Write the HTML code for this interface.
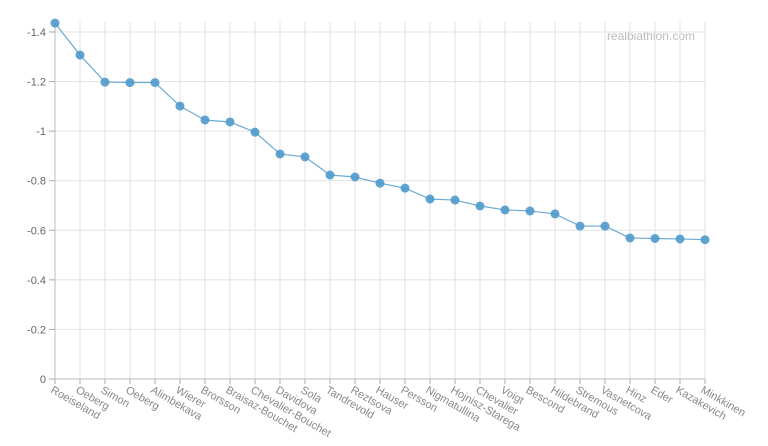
<!DOCTYPE html>
<html><head><meta charset="utf-8"><style>
html,body{margin:0;padding:0;background:#fff;width:768px;height:446px;overflow:hidden}
svg{font-family:"Liberation Sans",sans-serif}
</style></head><body>
<svg id="chart" width="768" height="446">
<text x="695" y="40" text-anchor="end" font-size="12" fill="#bbb">realbiathlon.com</text>
<g id="grid"></g><g id="axes"></g><g id="series"></g>
</svg>
<script>
const categories=["Roeiseland","Oeberg","Simon","Oeberg","Alimbekava","Wierer","Brorsson","Braisaz-Bouchet","Chevalier-Bouchet","Davidova","Sola","Tandrevold","Reztsova","Hauser","Persson","Nigmatullina","Hojnisz-Starega","Chevalier","Voigt","Bescond","Hildebrand","Stremous","Vasnetcova","Hinz","Eder","Kazakevich","Minkkinen"];
const values=[-1.436,-1.307,-1.198,-1.196,-1.196,-1.101,-1.045,-1.037,-0.996,-0.908,-0.896,-0.823,-0.815,-0.79,-0.77,-0.726,-0.722,-0.698,-0.682,-0.678,-0.666,-0.617,-0.617,-0.569,-0.567,-0.565,-0.562];
const yTicks=[0,-0.2,-0.4,-0.6,-0.8,-1,-1.2,-1.4];
const yTickLabels=["0","-0.2","-0.4","-0.6","-0.8","-1","-1.2","-1.4"];
const NS="http://www.w3.org/2000/svg";
const x0=55,x1=705,yBase=379,yTop=32;
const xs=i=>x0+i*(x1-x0)/(categories.length-1);
const ys=v=>yBase+(v/-1.4)*(yTop-yBase);
function mk(t,a,p){const e=document.createElementNS(NS,t);for(const k in a)e.setAttribute(k,a[k]);p.appendChild(e);return e;}
const grid=document.getElementById('grid'),axes=document.getElementById('axes'),series=document.getElementById('series');
yTicks.forEach((v,i)=>{
 const l=mk('line',{x1:x0,x2:x1,y1:ys(v),y2:ys(v),stroke:'#e2e2e2','stroke-width':1},grid);
 
 
 const tk=mk('line',{x1:x0-6,x2:x0,y1:ys(v),y2:ys(v),stroke:'#aaa'},axes);
 
 
 const t=mk('text',{x:x0-9,y:ys(v)+4,'text-anchor':'end','font-size':11,fill:'#666'},axes);
 t.textContent=yTickLabels[i];
 
 
});
categories.forEach((c,i)=>{
 const x=xs(i);
 const l=mk('line',{x1:x,x2:x,y1:22,y2:yBase,stroke:'#e2e2e2'},grid);
 
 
 const tk=mk('line',{x1:x,x2:x,y1:yBase,y2:yBase+5,stroke:'#aaa'},axes);
 
 
 const t=mk('text',{x:x-5,y:yBase+13,'font-size':11,fill:'#888',transform:`rotate(30 ${x-5} ${yBase+13})`},axes);
 t.textContent=c;
 
 
});
const ya=mk('line',{x1:x0,x2:x0,y1:22,y2:yBase,stroke:'#bbb'},axes);


const xa=mk('line',{x1:x0,x2:x1,y1:yBase,y2:yBase,stroke:'#bbb'},axes);


const pl=mk('polyline',{points:values.map((v,i)=>xs(i)+','+ys(v)).join(' '),fill:'none',stroke:'#6baad5','stroke-width':1.2},series);


values.forEach((v,i)=>{
 const c=mk('circle',{cx:xs(i),cy:ys(v),r:4.5,fill:'#4f9acc','fill-opacity':0.9},series);
 
 
});
</script>
</body></html>
